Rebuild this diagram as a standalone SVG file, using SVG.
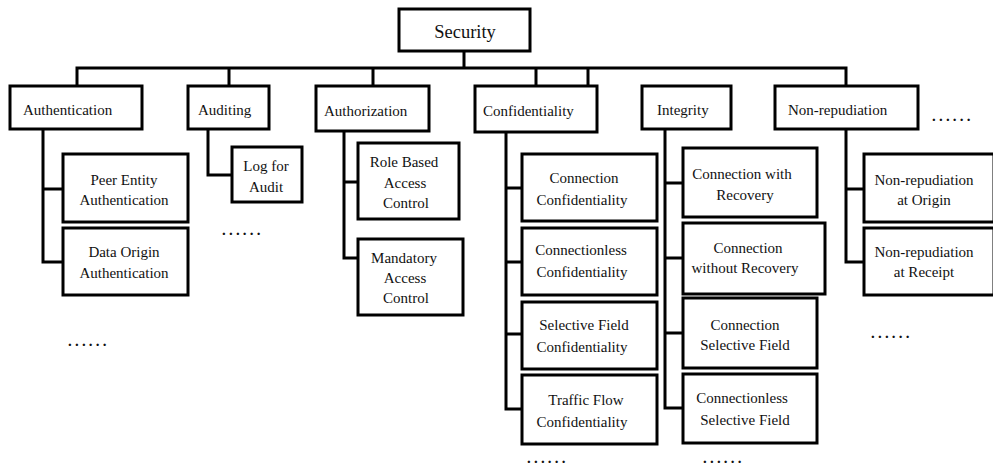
<svg xmlns="http://www.w3.org/2000/svg" width="993" height="465" viewBox="0 0 993 465">
<style>
.box{fill:#fff;stroke:#000;stroke-width:3}
.ln{fill:none;stroke:#000;stroke-width:3;stroke-linejoin:miter;stroke-linecap:square}
.t{font-family:"Liberation Serif","Times New Roman",serif;font-size:15px;fill:#111}
.c{text-anchor:middle}
.dots{font-family:"Liberation Serif","Times New Roman",serif;font-size:15px;font-weight:bold;fill:#111;letter-spacing:3.2px}
</style>
<rect width="993" height="465" fill="#fff"/>
<g id="connectors">
<path class="ln" d="M464 52V68M77 68H846M77 68V86M229 68V86M373 68V86M536 68V86M588 68V86M846 68V86" stroke-width="2.5"/>
<path class="ln" d="M43 130V262H63M43 189H63"/>
<path class="ln" d="M208 130V175H232"/>
<path class="ln" d="M344 131V258H358M344 182H358"/>
<path class="ln" d="M506 132V409H522M506 188H522M506 262H522M506 334H522"/>
<path class="ln" d="M665 130V408H683M665 183H683M665 258H683M665 333H683"/>
<path class="ln" d="M846 130V262H864M846 189H864"/>
</g>
<g id="security"><rect class="box" x="399" y="9" width="131" height="42"/><text class="t c" x="465" y="38" style="font-size:18.5px">Security</text></g>
<g id="authentication"><rect class="box" x="10" y="86" width="132" height="43"/><text class="t" x="23" y="115">Authentication</text></g>
<g id="auditing"><rect class="box" x="188" y="86" width="81" height="43"/><text class="t" x="198" y="115">Auditing</text></g>
<g id="authorization"><rect class="box" x="316" y="86" width="113" height="45"/><text class="t" x="324" y="116">Authorization</text></g>
<g id="confidentiality"><rect class="box" x="475" y="86" width="122" height="46"/><text class="t" x="483" y="116">Confidentiality</text></g>
<g id="integrity"><rect class="box" x="642" y="86" width="89" height="43"/><text class="t" x="657" y="115">Integrity</text></g>
<g id="nonrepudiation"><rect class="box" x="775" y="86" width="143" height="43"/><text class="t" x="788" y="115">Non-repudiation</text></g>
<text class="dots" x="932" y="121">......</text>
<g id="peer-entity"><rect class="box" x="63" y="154" width="125" height="68"/><text class="t c" x="124" y="185">Peer Entity</text><text class="t c" x="124" y="205">Authentication</text></g>
<g id="data-origin"><rect class="box" x="63" y="228" width="125" height="67"/><text class="t c" x="124" y="257">Data Origin</text><text class="t c" x="124" y="278">Authentication</text></g>
<text class="dots" x="68" y="346">......</text>
<g id="log-audit"><rect class="box" x="232" y="147" width="70" height="55"/><text class="t c" x="266" y="171">Log for</text><text class="t c" x="266" y="192">Audit</text></g>
<text class="dots" x="222" y="235">......</text>
<g id="rbac"><rect class="box" x="358" y="143" width="101" height="76"/><text class="t c" x="404" y="167">Role Based</text><text class="t c" x="405" y="188">Access</text><text class="t c" x="406" y="208">Control</text></g>
<g id="mac"><rect class="box" x="358" y="239" width="105" height="76"/><text class="t c" x="404" y="263">Mandatory</text><text class="t c" x="405" y="283">Access</text><text class="t c" x="406" y="303">Control</text></g>
<g id="conn-conf"><rect class="box" x="522" y="154" width="135" height="67"/><text class="t c" x="584" y="183">Connection</text><text class="t c" x="582" y="205">Confidentiality</text></g>
<g id="connless-conf"><rect class="box" x="522" y="228" width="135" height="67"/><text class="t c" x="581" y="255">Connectionless</text><text class="t c" x="582" y="277">Confidentiality</text></g>
<g id="sel-conf"><rect class="box" x="522" y="302" width="135" height="67"/><text class="t c" x="584" y="330">Selective Field</text><text class="t c" x="582" y="352">Confidentiality</text></g>
<g id="traffic-conf"><rect class="box" x="522" y="375" width="135" height="69"/><text class="t c" x="586" y="405">Traffic Flow</text><text class="t c" x="582" y="427">Confidentiality</text></g>
<text class="dots" x="527" y="463">......</text>
<g id="conn-rec"><rect class="box" x="683" y="148" width="134" height="69"/><text class="t c" x="742" y="179">Connection with</text><text class="t c" x="745" y="200">Recovery</text></g>
<g id="conn-norec"><rect class="box" x="683" y="223" width="142" height="71"/><text class="t c" x="748" y="253">Connection</text><text class="t c" x="745" y="273">without Recovery</text></g>
<g id="conn-sel"><rect class="box" x="683" y="298" width="134" height="70"/><text class="t c" x="745" y="330">Connection</text><text class="t c" x="745" y="350">Selective Field</text></g>
<g id="connless-sel"><rect class="box" x="683" y="374" width="134" height="69"/><text class="t c" x="742" y="403">Connectionless</text><text class="t c" x="745" y="425">Selective Field</text></g>
<text class="dots" x="703" y="463">......</text>
<g id="nr-origin"><rect class="box" x="864" y="154" width="130" height="68"/><text class="t c" x="924" y="185">Non-repudiation</text><text class="t c" x="924" y="205">at Origin</text></g>
<g id="nr-receipt"><rect class="box" x="864" y="228" width="130" height="67"/><text class="t c" x="924" y="257">Non-repudiation</text><text class="t c" x="924" y="277">at Receipt</text></g>
<text class="dots" x="871" y="338">......</text>
</svg>
